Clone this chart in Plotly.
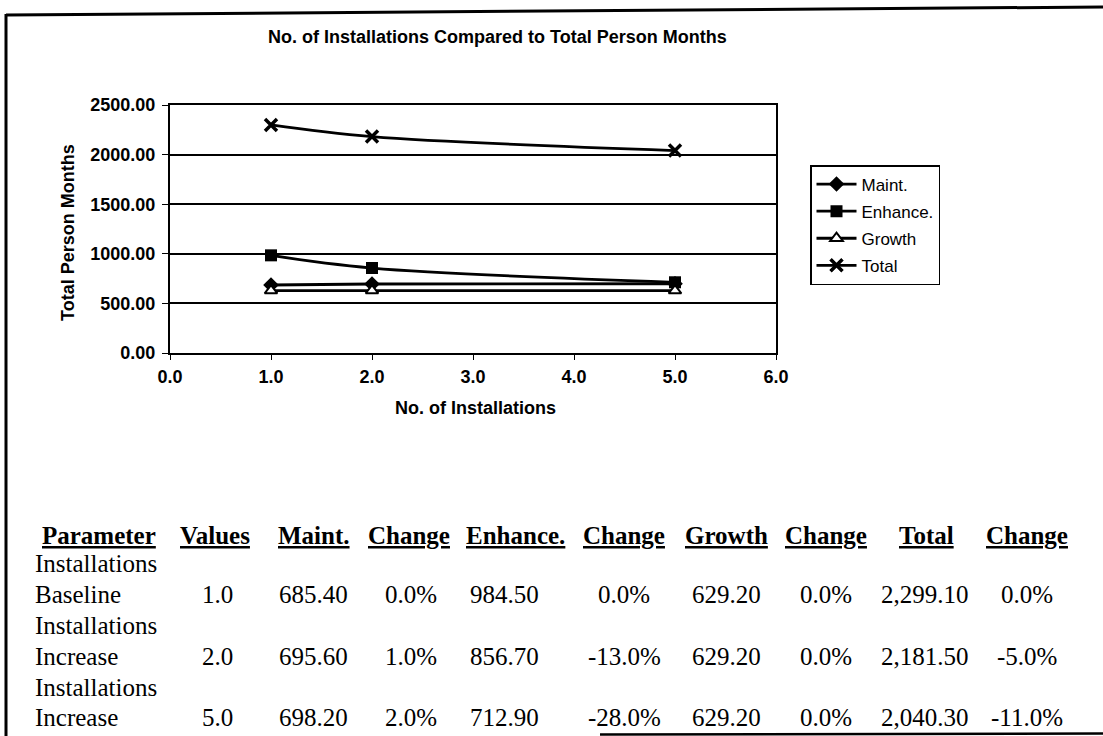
import plotly.graph_objects as go

# Chart data
installations = [1.0, 2.0, 5.0]
maint = [685.40, 695.60, 698.20]
enhance = [984.50, 856.70, 712.90]
growth = [629.20, 629.20, 629.20]
total = [2299.10, 2181.50, 2040.30]

# Table data
param_line1 = ["Installations", "Installations", "Installations"]
param_line2 = ["Baseline", "Increase", "Increase"]
maint_change = [0.0, 1.0, 2.0]
enhance_change = [0.0, -13.0, -28.0]
growth_change = [0.0, 0.0, 0.0]
total_change = [0.0, -5.0, -11.0]
headers = ["Parameter", "Values", "Maint.", "Change", "Enhance.", "Change",
           "Growth", "Change", "Total", "Change"]

W, H = 1103, 736
PL, PR, PT, PB = 170, 776, 105, 353  # plot area in pixels


def px(x):
    return (x - PL) / (PR - PL)


def py(y):
    return (PB - y) / (PB - PT)


fig = go.Figure()

series = [
    ("Maint.", maint, dict(symbol="diamond", size=12, color="black")),
    ("Enhance.", enhance, dict(symbol="square", size=12, color="black")),
    ("Growth", growth, dict(symbol="triangle-up", size=11, color="white",
                            line=dict(color="black", width=2))),
    ("Total", total, dict(symbol="x-thin", size=12, color="black",
                          line=dict(color="black", width=3.5))),
]
for name, vals, marker in series:
    fig.add_trace(go.Scatter(
        x=installations, y=vals, name=name, mode="lines+markers",
        legendgroup=name,
        line=dict(color="black", width=2.8, shape="spline"),
        marker=marker,
    ))

SANS = "Liberation Sans, Arial"
tick_font = dict(family=SANS, size=18, color="black", weight="bold")

fig.update_xaxes(
    range=[0, 6], dtick=1, tickformat=".1f", showgrid=False,
    showline=True, linecolor="black", linewidth=2, mirror=True,
    ticks="outside", ticklen=5, tickcolor="black", tickwidth=1,
    tickfont=tick_font, ticklabelstandoff=1, zeroline=False,
)
fig.update_yaxes(
    range=[0, 2500], dtick=500, tickformat=".2f", showgrid=True,
    gridcolor="black", gridwidth=1.5,
    showline=True, linecolor="black", linewidth=2, mirror=True,
    ticks="outside", ticklen=6, tickcolor="black", tickwidth=1,
    tickfont=tick_font, ticklabelstandoff=3, zeroline=False,
)

annotations = [
    dict(text="<b>No. of Installations Compared to Total Person Months</b>",
         x=px(497), y=py(37), font=dict(family=SANS, size=18, color="black")),
    dict(text="<b>No. of Installations</b>", x=px(475), y=py(408),
         font=dict(family=SANS, size=18, color="black")),
    dict(text="<b>Total Person Months</b>", x=px(68), y=py(233), textangle=-90,
         font=dict(family=SANS, size=18, color="black")),
]

# Table below the chart
tfont = dict(family="Liberation Serif, Times New Roman", size=25, color="black")
header_x = [None, 215, 314, 409, 515, 624, 726, 826, 926, 1027]
header_y = 535
annotations.append(dict(text="<b><u>" + headers[0] + "</u></b>", x=px(40), y=py(header_y),
                        xanchor="left", font=tfont))
for hx, h in zip(header_x[1:], headers[1:]):
    annotations.append(dict(text="<b><u>" + h + "</u></b>", x=px(hx), y=py(header_y),
                            font=tfont))

row_y1 = [563, 625, 687]
row_y2 = [594, 656, 717]
col_x = [217, 313, 411, 504, 624, 726, 826, 925, 1027]
for i in range(3):
    annotations.append(dict(text=param_line1[i], x=px(33), y=py(row_y1[i]),
                            xanchor="left", font=tfont))
    annotations.append(dict(text=param_line2[i], x=px(33), y=py(row_y2[i]),
                            xanchor="left", font=tfont))
    cells = [
        f"{installations[i]:.1f}",
        f"{maint[i]:.2f}",
        f"{maint_change[i]:.1f}%",
        f"{enhance[i]:.2f}",
        f"{enhance_change[i]:.1f}%",
        f"{growth[i]:.2f}",
        f"{growth_change[i]:.1f}%",
        f"{total[i]:,.2f}",
        f"{total_change[i]:.1f}%",
    ]
    for cx, c in zip(col_x, cells):
        annotations.append(dict(text=c, x=px(cx), y=py(row_y2[i]), font=tfont))

for a in annotations:
    a.update(xref="paper", yref="paper", showarrow=False)
    a.setdefault("xanchor", "center")
    a.setdefault("yanchor", "middle")

# Page frame
shapes = [
    dict(type="line", x0=px(6), x1=px(6), y0=py(14), y1=py(736),
         line=dict(color="black", width=3)),
    dict(type="line", x0=px(6), x1=px(1103), y0=py(15), y1=py(7),
         line=dict(color="black", width=3)),
    dict(type="line", x0=px(600), x1=px(1103), y0=py(734.5), y1=py(733.5),
         line=dict(color="black", width=2.5)),
]
for s in shapes:
    s.update(xref="paper", yref="paper")

fig.update_layout(
    width=W, height=H,
    margin=dict(l=PL, r=W - PR, t=PT, b=H - PB, pad=0),
    paper_bgcolor="white", plot_bgcolor="white",
    showlegend=True,
    legend=dict(
        x=px(810), y=py(165), xanchor="left", yanchor="top",
        bordercolor="black", borderwidth=1.5, bgcolor="white",
        font=dict(family=SANS, size=17, color="black"),
        tracegroupgap=2, itemwidth=40,
    ),
    annotations=annotations,
    shapes=shapes,
)

fig.write_html("out.html")
